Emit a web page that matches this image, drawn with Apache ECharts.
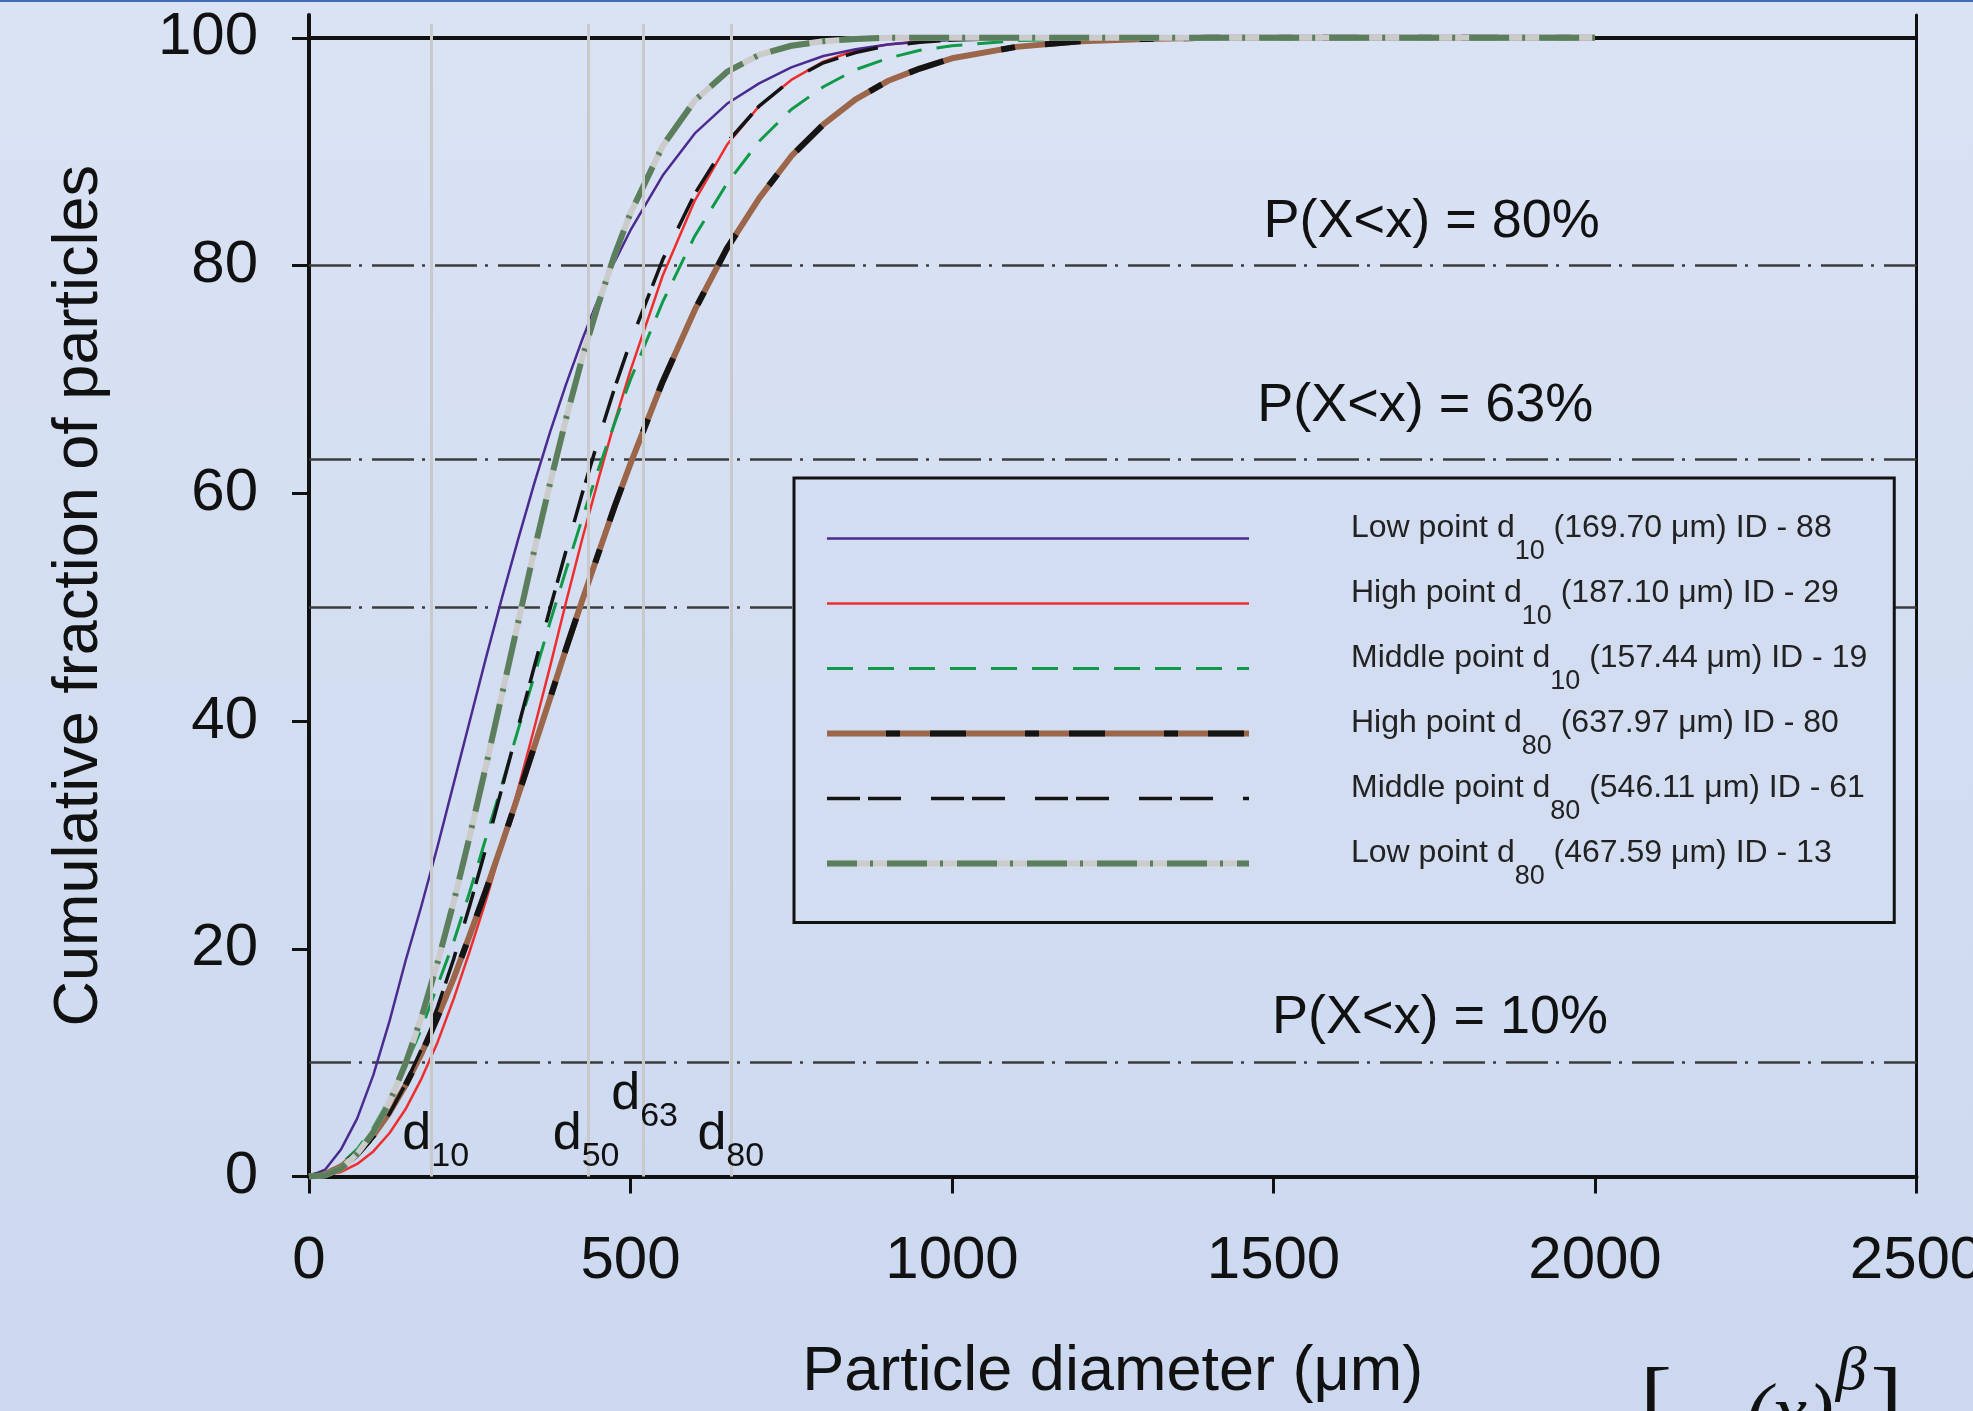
<!DOCTYPE html>
<html>
<head>
<meta charset="utf-8">
<script src="https://cdn.jsdelivr.net/npm/echarts@6/dist/echarts.min.js"></script>
<style>
html,body{margin:0;padding:0;width:1973px;height:1411px;overflow:hidden;}
#chart{width:1973px;height:1411px;}
</style>
</head>
<body>
<div id="chart"></div>
<script>
// ---------------- data ----------------
const particleSize = [0,25,50,75,100,125,150,175,200,225,250,275,300,325,350,375,400,425,450,475,500,
  550,600,650,700,750,800,850,900,950,1000,1100,1200,1300,1400,1500,1750,2000];

const lowD10_ID88 = [0,0.6,2.4,5.1,8.9,13.6,18.9,23.8,29.0,34.5,40.0,45.5,50.8,55.9,60.8,65.4,69.6,73.5,77.1,80.3,83.1,
  87.9,91.6,94.2,96.0,97.4,98.4,99.0,99.4,99.65,99.8,99.9,100,100,100,100,100,100];
const highD10_ID29 = [0,0.1,0.4,1.1,2.2,3.8,5.9,8.6,11.8,15.6,19.8,24.2,29.0,34.0,39.3,44.8,50.5,56.0,61.2,66.2,70.8,
  79.1,85.7,90.6,94.0,96.3,97.9,98.9,99.4,99.7,99.85,99.95,100,100,100,100,100,100];
const midD10_ID19 = [0,0.3,1.1,2.4,4.3,6.8,9.7,13.0,16.8,20.6,25.0,29.7,34.4,39.2,43.9,48.7,53.3,57.8,62.1,66.1,70.0,
  76.8,82.6,87.2,90.9,93.7,95.7,97.2,98.2,98.9,99.3,99.75,99.9,100,100,100,100,100];
const highD80_ID80 = [0,0.2,0.9,2.0,3.6,5.6,8.0,10.8,14.0,17.4,21.2,25.1,29.2,33.4,37.7,42.0,46.4,50.6,54.7,58.8,62.6,
  69.8,76.1,81.5,85.9,89.6,92.4,94.6,96.2,97.3,98.2,99.2,99.7,99.9,100,100,100,100];
const midD80_ID61 = [0,0.2,0.7,1.8,3.4,5.5,8.1,11.2,14.9,19.1,23.8,28.8,34.1,39.4,44.7,49.9,55.0,60.0,64.7,69.2,73.3,
  80.5,86.3,90.8,94.0,96.3,97.8,98.7,99.3,99.6,99.8,99.95,100,100,100,100,100,100];
const lowD80_ID13 = [0,0.1,0.7,2.0,3.9,6.5,9.9,14.0,18.8,24.1,29.9,36.0,42.3,48.6,54.9,60.9,66.6,71.9,76.6,80.9,84.6,
  90.5,94.5,97.0,98.5,99.3,99.7,99.9,100,100,100,100,100,100,100,100,100,100];

const seriesNames = [
  'Low point d10 (169.70 μm) ID - 88',
  'High point d10 (187.10 μm) ID - 29',
  'Middle point d10 (157.44 μm) ID - 19',
  'High point d80 (637.97 μm) ID - 80',
  'Middle point d80 (546.11 μm) ID - 61',
  'Low point d80 (467.59 μm) ID - 13'
];
const legendPrefix = ['Low point d','High point d','Middle point d','High point d','Middle point d','Low point d'];
const legendSub = ['10','10','10','80','80','80'];
const legendSuffix = [' (169.70 μm) ID - 88',' (187.10 μm) ID - 29',' (157.44 μm) ID - 19',
  ' (637.97 μm) ID - 80',' (546.11 μm) ID - 61',' (467.59 μm) ID - 13'];
const overlayNames = ['High point d80 overlay','Low point d80 overlay'];

const xTicks = [0,500,1000,1500,2000,2500];
const yTicks = [0,20,40,60,80,100];
const refLevels = [80,63,50,10];
const topLine = 100;
const pLabelText = ['P(X<x) = 80%','P(X<x) = 63%','P(X<x) = 10%'];
const pLabelX = [1746,1736,1759];
const pLabelY = [83.85,67.65,13.95];
const dLineX = [190,435,520,656];
const dLineTop = 101.2;
const dLabelSub = ['10','50','63','80'];
const dLabelX = [197,431,522,656];
const dLabelY = [3.7,3.7,7.2,3.7];

// ---------------- chart ----------------
const FONT = 'Liberation Sans, Arial, sans-serif';
const INK = '#111111';
const pts = vals => particleSize.map((x,i)=>[x, vals[i]]);
const chart = echarts.init(document.getElementById('chart'), null, {renderer:'canvas'});

const curveStyle = {
  purple: {color:'#4b2b8f', width:2.5, type:'solid'},
  red: {color:'#ee2e2e', width:2.5, type:'solid'},
  green: {color:'#0f9a48', width:3, type:[26,15]},
  brown: {color:'#9c664b', width:6, type:'solid'},
  brownOver: {color:'#141414', width:6, type:[14,30,36,59]},
  black: {color:'#141414', width:3.5, type:[33,8,33,30]},
  gray: {color:'#cbcbcb', width:6, type:'solid'},
  grayOver: {color:'#5b7e5c', width:6, type:[40,13,3,14]}
};

const legendLines = [curveStyle.purple, curveStyle.red, curveStyle.green,
  curveStyle.brown, curveStyle.black, curveStyle.gray];

const annotationData = [];
pLabelText.forEach((t,i)=>annotationData.push({
  value:[pLabelX[i], pLabelY[i]],
  label:{formatter:t, fontSize:54, color:INK, fontFamily:FONT}
}));
dLabelSub.forEach((s,i)=>annotationData.push({
  value:[dLabelX[i], dLabelY[i]],
  label:{formatter:'{d|d}{s|'+s+'}', color:INK}
}));

function line(name, vals, style, z){
  return {name, type:'line', data:pts(vals), symbol:'none', showSymbol:false, silent:true,
    lineStyle:{color:style.color, width:style.width, type:style.type, cap:'butt', join:'round'},
    itemStyle:{color:style.color}, z, animation:false};
}

const option = {
  animation:false,
  backgroundColor:{type:'linear',x:0,y:0,x2:0,y2:1,colorStops:[{offset:0,color:'#dae3f4'},{offset:1,color:'#cbd8ef'}]},
  textStyle:{fontFamily:FONT},
  graphic:[
    {type:'rect', left:0, top:0, shape:{width:1973, height:2}, style:{fill:'#3e6cb6'}, silent:true},
    {type:'text', x:1640, y:1318, silent:true, style:{
      text:'{b|[}{m| \u2212}{i|(x)}{p|\u03B2}{b|]}', fill:INK,
      rich:{
        b:{fontSize:96, fontFamily:'Liberation Serif, DejaVu Serif, serif', padding:[40,0,0,0]},
        m:{fontSize:70, fontFamily:'Liberation Serif, DejaVu Serif, serif', padding:[60,8,0,8]},
        i:{fontSize:80, fontStyle:'italic', fontFamily:'Liberation Serif, DejaVu Serif, serif', padding:[60,0,0,0]},
        p:{fontSize:62, fontStyle:'italic', fontFamily:'Liberation Serif, DejaVu Serif, serif', padding:[0,4,30,2]}
      }}}
  ],
  grid:{left:309, right:56.5, top:15, bottom:234.5, containLabel:false, outerBoundsMode:'none'},
  xAxis:{
    type:'value', min:0, max:2500, interval:500,
    name:'Particle diameter (μm)', nameLocation:'middle', nameGap:165,
    nameTextStyle:{fontSize:63, color:INK, fontFamily:FONT},
    axisLine:{show:true, onZero:false, lineStyle:{color:INK, width:4}},
    axisTick:{show:true, inside:false, length:17, lineStyle:{color:INK, width:3}, customValues:xTicks},
    axisLabel:{fontSize:60, color:INK, margin:55, fontFamily:FONT, customValues:xTicks, formatter:v=>String(v)},
    splitLine:{show:false}
  },
  yAxis:[{
    type:'value', min:0, max:102, interval:20, position:'left',
    name:'Cumulative fraction of particles', nameLocation:'middle', nameGap:198,
    nameTextStyle:{fontSize:63, color:INK, fontFamily:FONT},
    axisLine:{show:true, onZero:false, lineStyle:{color:INK, width:4}},
    axisTick:{show:true, inside:false, length:17, lineStyle:{color:INK, width:3}, customValues:yTicks},
    axisLabel:{fontSize:60, color:INK, margin:51, fontFamily:FONT, customValues:yTicks, formatter:v=>String(v)},
    splitLine:{show:false}
  },{
    type:'value', min:0, max:102, position:'right',
    axisLine:{show:true, onZero:false, lineStyle:{color:INK, width:3}},
    axisTick:{show:false}, axisLabel:{show:false}, splitLine:{show:false}
  }],
  legend:[{
    data:seriesNames.map((n,i)=>({name:n, lineStyle:{color:legendLines[i].color, width:legendLines[i].width, type:legendLines[i].type}})),
    orient:'vertical', left:794, top:478, padding:[34.6,27,33,30],
    itemWidth:422, itemHeight:14, itemGap:13,
    borderColor:INK, borderWidth:3, backgroundColor:'#d3ddf1',
    selectedMode:false, itemStyle:{opacity:0}, z:4,
    formatter:name=>{const i=seriesNames.indexOf(name);
      return '{f|'+legendPrefix[i]+'}{s|'+legendSub[i]+'}{n|'+legendSuffix[i]+'}';},
    textStyle:{color:'#222', fontFamily:FONT, fontSize:32, rich:{
      f:{fontSize:32, fontFamily:FONT, color:'#222', padding:[0,0,20,97]},
      n:{fontSize:32, fontFamily:FONT, color:'#222', padding:[0,0,20,0]},
      s:{fontSize:27, fontFamily:FONT, color:'#222', padding:[25,0,0,0]}
    }}
  },{
    data:[{name:overlayNames[0], lineStyle:{color:curveStyle.brownOver.color, width:6, type:curveStyle.brownOver.type, dashOffset:80}}],
    orient:'vertical', left:824, top:726.6, padding:0, itemWidth:422, itemHeight:14,
    selectedMode:false, itemStyle:{opacity:0}, formatter:()=>'', textStyle:{fontSize:10}, z:6
  },{
    data:[{name:overlayNames[1], lineStyle:{color:curveStyle.grayOver.color, width:6, type:curveStyle.grayOver.type}}],
    orient:'vertical', left:824, top:856.6, padding:0, itemWidth:422, itemHeight:14,
    selectedMode:false, itemStyle:{opacity:0}, formatter:()=>'', textStyle:{fontSize:10}, z:6
  }],
  series:[
    {name:'refLines', type:'line', data:[], silent:true, z:1,
      markLine:{z:1, silent:true, symbol:['none','none'], label:{show:false}, animation:false,
        lineStyle:{color:'#3c3c3c', width:2.5, type:[42,8,3,10]},
        data:[...refLevels.map(v=>({yAxis:v})), {yAxis:topLine, lineStyle:{color:INK, width:4, type:'solid'}}]}},
    line(seriesNames[1], highD10_ID29, curveStyle.red, 2),
    line(seriesNames[2], midD10_ID19, curveStyle.green, 2),
    line(seriesNames[0], lowD10_ID88, curveStyle.purple, 2),
    line(seriesNames[3], highD80_ID80, curveStyle.brown, 2),
    line(overlayNames[0], highD80_ID80, curveStyle.brownOver, 2),
    line(seriesNames[4], midD80_ID61, curveStyle.black, 2),
    line(seriesNames[5], lowD80_ID13, curveStyle.gray, 2),
    line(overlayNames[1], lowD80_ID13, curveStyle.grayOver, 2),
    {name:'dLines', type:'line', data:[], silent:true, z:5,
      markLine:{z:5, silent:true, symbol:['none','none'], label:{show:false}, animation:false,
        lineStyle:{color:'#c9c9c9', width:3, type:'solid'},
        data:dLineX.map(x=>[{coord:[x,0]},{coord:[x,dLineTop]}])}},
    {name:'annotations', type:'scatter', data:annotationData, symbolSize:0, silent:true, z:6,
      itemStyle:{opacity:1},
      label:{show:true, position:[0,0], align:'center', verticalAlign:'middle', color:INK, fontFamily:FONT,
        rich:{
          d:{fontSize:52, fontFamily:FONT, color:INK},
          s:{fontSize:34, fontFamily:FONT, color:INK, padding:[44,0,0,0]}
        }}}
  ]
};
chart.setOption(option);
</script>
</body>
</html>
